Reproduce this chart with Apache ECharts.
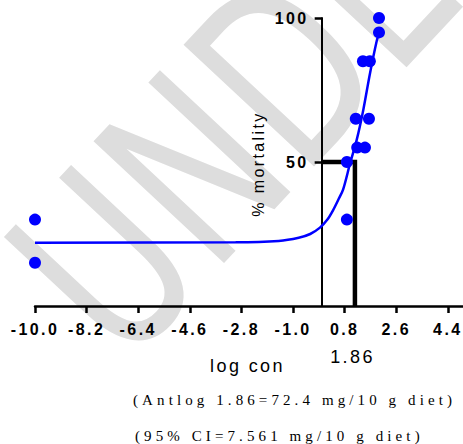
<!DOCTYPE html>
<html><head><meta charset="utf-8">
<script src="https://cdn.jsdelivr.net/npm/echarts@6/dist/echarts.min.js"></script>
<style>
html,body{margin:0;padding:0;background:#fff;}
#c{width:463px;height:444px;}
#c svg text{letter-spacing:2.4px;}
#c svg text[style*="Serif"]{letter-spacing:4.1px;}
#c svg text[style*="DejaVu"]{letter-spacing:0px;}
</style></head><body><div id="c"></div>
<script>
// ---- data ----
const xTicks = [-10.0, -8.2, -6.4, -4.6, -2.8, -1.0, 0.8, 2.6, 4.4];
const yTicks = [50, 100];
const curveX = [-10, -3, -1.5, -0.8, -0.4, -0.06, 0.2, 0.4, 0.6, 0.75, 0.99, 1.22, 1.45, 1.68, 1.92, 2.01];
const curveY = [22.0, 22.1, 22.6, 23.7, 25.0, 27.2, 30.0, 33.3, 37.3, 40.5, 49.5, 57.6, 68.0, 80.5, 92.0, 95.0];
const pointX = [-10, -10, 0.88, 0.88, 1.24, 1.51, 1.19, 1.65, 1.44, 1.68, 2.0, 2.0];
const pointY = [30, 15, 30, 50, 55, 55, 65, 65, 85, 85, 95, 100];
const ec50X = 1.16;
const ec50Y = 50;
const ec50Label = '1.86';
const xName = 'log con';
const yName = '% mortality';
const note1 = '(Antlog 1.86=72.4 mg/10 g diet)';
const note2 = '(95% CI=7.561 mg/10 g diet)';
const watermark = 'UNDER REVIEW';

const X_MIN = -10, X_MAX = 4.93;
const GRID_LEFT = 35, GRID_W = 428;

const chart = echarts.init(document.getElementById('c'), null, {renderer: 'svg'});
const SANS = 'Liberation Sans';
const SERIF = 'Liberation Serif';

function txt(text, x, y, size, opts) {
  opts = opts || {};
  return Object.assign({
    type: 'text', x: x, y: y, z: 100, silent: true,
    style: {
      text: text, fill: '#000', fontSize: size, fontFamily: opts.family || SANS,
      fontWeight: opts.weight || 'normal',
      align: opts.align || 'center', verticalAlign: 'middle',
      textAlign: opts.align || 'center', textVerticalAlign: 'middle'
    }
  }, opts.extra || {});
}

// y axis crosses at x = 0: shift it from the grid's left edge
const yAxisOffset = -GRID_W * (0 - X_MIN) / (X_MAX - X_MIN);

chart.setOption({
  animation: false,
  textStyle: {fontFamily: SANS},
  grid: {left: GRID_LEFT, right: 463 - GRID_LEFT - GRID_W, top: 18, bottom: 138, containLabel: false, outerBoundsMode: 'none'},
  xAxis: {
    type: 'value', min: X_MIN, max: X_MAX, interval: 1.8,
    axisLine: {onZero: false, lineStyle: {color: '#000', width: 2.5}},
    axisTick: {show: true, length: 7, customValues: xTicks, lineStyle: {color: '#000', width: 2.5}},
    axisLabel: {customValues: xTicks, formatter: v => v.toFixed(1), color: '#000', fontFamily: SANS,
      fontWeight: 'bold', fontSize: 16, margin: 15},
    splitLine: {show: false}
  },
  yAxis: {
    type: 'value', min: 0, max: 100, position: 'left', offset: yAxisOffset,
    axisLine: {show: true, onZero: false, lineStyle: {color: '#000', width: 2}},
    axisTick: {show: true, length: 7, customValues: yTicks, lineStyle: {color: '#000', width: 2.5}},
    axisLabel: {customValues: yTicks, color: '#000', fontFamily: SANS, fontWeight: 'bold', fontSize: 16, margin: 13},
    splitLine: {show: false}
  },
  series: [
    {
      type: 'line', silent: true, symbol: 'none', z: 2,
      data: [[0, ec50Y], [ec50X, ec50Y], [ec50X, 0]],
      lineStyle: {color: '#000', width: 4.5, cap: 'butt', join: 'miter'}
    },
    {
      type: 'line', silent: true, symbol: 'none', z: 3, smooth: 0.3,
      data: curveX.map((x, i) => [x, curveY[i]]),
      lineStyle: {color: '#0000ff', width: 2.5}
    },
    {
      type: 'scatter', silent: true, z: 4, symbolSize: 12,
      data: pointX.map((x, i) => [x, pointY[i]]),
      itemStyle: {color: '#0000ff', opacity: 1}
    }
  ],
  graphic: [
    {
      type: 'text', x: 62, y: 312, rotation: 0.82, scaleX: 0.72, scaleY: 1, z: -10, silent: true,
      style: {text: watermark, fill: '#dddddd', fontSize: 245, fontFamily: 'DejaVu Sans', fontWeight: 'normal',
        align: 'left', verticalAlign: 'middle', textAlign: 'left', textVerticalAlign: 'middle'}
    },
    txt(ec50Label, 352.5, 357, 18),
    txt(xName, 247.5, 365.5, 18),
    txt(yName, 258, 164, 16, {extra: {rotation: Math.PI / 2}}),
    txt(note1, 133, 400, 15, {family: SERIF, align: 'left'}),
    txt(note2, 135, 435.5, 15, {family: SERIF, align: 'left'})
  ]
});
</script></body></html>
